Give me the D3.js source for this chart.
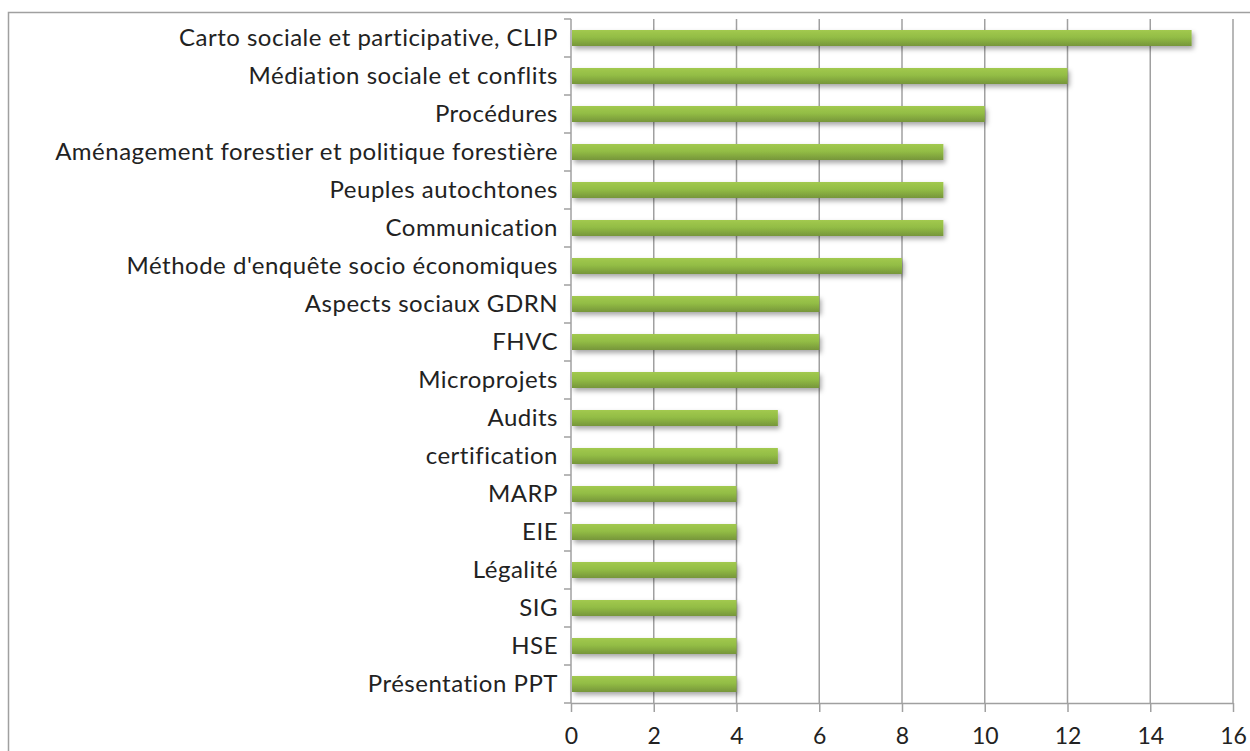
<!DOCTYPE html>
<html><head><meta charset="utf-8">
<script src="https://cdn.jsdelivr.net/npm/d3@7"></script>
<style>body{margin:0;background:#fff;} svg{display:block;}</style>
</head><body>
<script>
const categories = ["Carto sociale et participative, CLIP","Médiation sociale et conflits","Procédures","Aménagement forestier et politique forestière","Peuples autochtones","Communication","Méthode d'enquête socio économiques","Aspects sociaux GDRN","FHVC","Microprojets","Audits","certification","MARP","EIE","Légalité","SIG","HSE","Présentation PPT"];
const values = [15,12,10,9,9,9,8,6,6,6,5,5,4,4,4,4,4,4];
const xTicks = [0,2,4,6,8,10,12,14,16];

(function(){
const W=1250,H=751;
const FONT="Lato, sans-serif";
const svg=d3.select("body").append("svg").attr("width",W).attr("height",H);
const defs=svg.append("defs");
const g1=defs.append("linearGradient").attr("id","bg").attr("x1",0).attr("y1",0).attr("x2",0).attr("y2",1);
g1.append("stop").attr("offset","0%").attr("stop-color","#a2c94f");
g1.append("stop").attr("offset","45%").attr("stop-color","#93bd45");
g1.append("stop").attr("offset","100%").attr("stop-color","#76963a");
const f=defs.append("filter").attr("id","sh").attr("x","-5%").attr("y","-50%").attr("width","115%").attr("height","250%");
f.append("feDropShadow").attr("dx",2).attr("dy",3).attr("stdDeviation",2.5).attr("flood-color","#000").attr("flood-opacity",0.35);

svg.append("rect").attr("x",8.5).attr("y",12.5).attr("width",1300).attr("height",800).attr("fill","none").attr("stroke","#a0a0a0").attr("stroke-width",1.5);

const pLeft=571, pRight=1233, pTop=19, pBottom=703;
const x=d3.scaleLinear().domain([0,16]).range([pLeft,pRight]);
const yb=d3.scaleBand().domain(categories).range([pTop,pBottom]);

svg.append("g").selectAll("line").data(xTicks.slice(1)).join("line")
 .attr("x1",d=>x(d)).attr("x2",d=>x(d)).attr("y1",pTop).attr("y2",pBottom)
 .attr("stroke","#a0a0a0").attr("stroke-width",1.5);

svg.append("g").selectAll("rect").data(values).join("rect")
 .attr("x",x(0)+1).attr("y",(d,i)=>yb(categories[i])+yb.bandwidth()/2-8).attr("width",d=>x(d)-x(0)-1).attr("height",16)
 .attr("fill","url(#bg)").attr("filter","url(#sh)");

const xa=svg.append("g").attr("transform",`translate(0,${pBottom})`)
 .call(d3.axisBottom(x).tickValues(xTicks).tickSize(9).tickPadding(16));
xa.select(".domain").attr("stroke","#a0a0a0").attr("stroke-width",1.5).attr("d",`M${pLeft},0.5H${pRight}`);
xa.selectAll(".tick line").attr("stroke","#a0a0a0").attr("stroke-width",1.5);
xa.selectAll("text").attr("font-family",FONT).attr("font-size",23).attr("fill","#222");

const boundaries=categories.map(c=>yb(c)).concat([pBottom]);
svg.append("line").attr("x1",pLeft).attr("x2",pLeft).attr("y1",pTop).attr("y2",pBottom).attr("stroke","#a0a0a0").attr("stroke-width",1.5);
svg.append("g").selectAll("line").data(boundaries).join("line")
 .attr("x1",pLeft-7).attr("x2",pLeft).attr("y1",d=>d).attr("y2",d=>d).attr("stroke","#a0a0a0").attr("stroke-width",1.5);
svg.append("g").selectAll("text").data(categories).join("text")
 .attr("x",558).attr("y",d=>yb(d)+yb.bandwidth()/2).attr("dy","0.35em")
 .attr("text-anchor","end").attr("font-family",FONT).attr("font-size",24).attr("letter-spacing",0.5).attr("fill","#222")
 .text(d=>d);
})();
</script>
</body></html>
